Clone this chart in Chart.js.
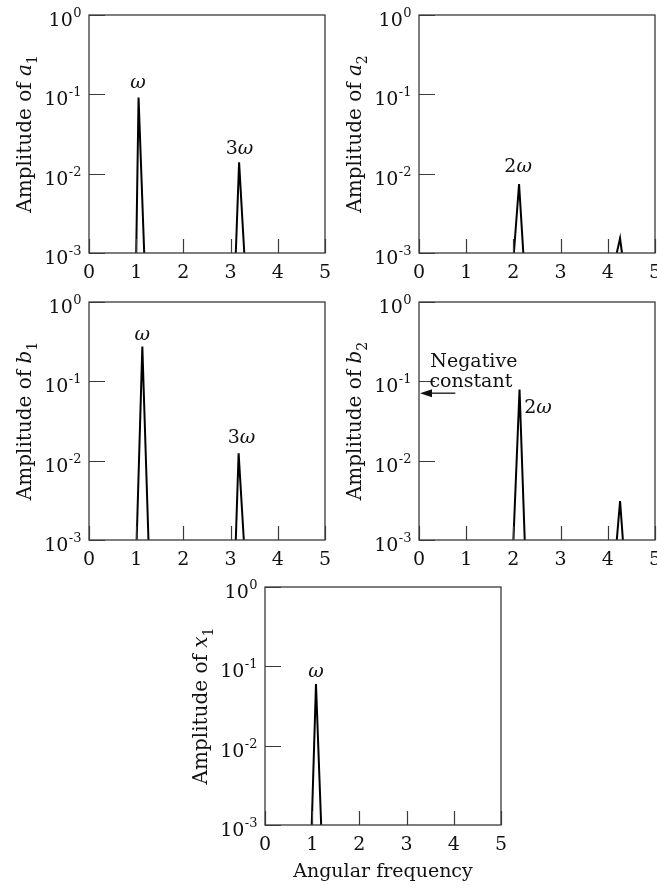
<!DOCTYPE html>
<html lang="en">
<head>
<meta charset="UTF-8">
<title>Amplitude spectra</title>
<script src="https://cdn.jsdelivr.net/npm/chart.js"></script>
<style>
  body { margin: 0; background: #fff; }
  #page { position: relative; width: 657px; height: 890px; overflow: hidden; }
  .panel { position: absolute; }
</style>
</head>
<body>
<div id="page">
  <div class="panel" style="left:0;top:0;width:330px;height:285px"><canvas id="a1"></canvas></div>
  <div class="panel" style="left:330px;top:0;width:327px;height:285px"><canvas id="a2"></canvas></div>
  <div class="panel" style="left:0;top:287px;width:330px;height:285px"><canvas id="b1"></canvas></div>
  <div class="panel" style="left:330px;top:287px;width:327px;height:285px"><canvas id="b2"></canvas></div>
  <div class="panel" style="left:176px;top:572px;width:330px;height:318px"><canvas id="x1"></canvas></div>
</div>

<script>
// axes
const freqTicks = [0, 1, 2, 3, 4, 5];
const ampTicks = [0.001, 0.01, 0.1, 1];
const ampExponents = ['-3', '-2', '-1', '0'];   // tick labels 10^-3 ... 10^0

// each peak is three points: foot, top, foot
const a1Freq = [1.00, 1.05, 1.17, 3.11, 3.18, 3.29];
const a1Amp  = [0.001, 0.091, 0.001, 0.001, 0.0139, 0.001];
const a2Freq = [2.01, 2.12, 2.21, 4.19, 4.26, 4.30];
const a2Amp  = [0.001, 0.0074, 0.001, 0.001, 0.00153, 0.001];
const b1Freq = [1.01, 1.13, 1.26, 3.11, 3.17, 3.28];
const b1Amp  = [0.001, 0.275, 0.001, 0.001, 0.0124, 0.001];
const b2Freq = [2.00, 2.13, 2.24, 4.19, 4.26, 4.32];
const b2Amp  = [0.001, 0.079, 0.001, 0.001, 0.0031, 0.001];
const x1Freq = [0.99, 1.08, 1.19];
const x1Amp  = [0.001, 0.060, 0.001];

const SERIF = '"DejaVu Serif", "Liberation Serif", serif';
const INK = '#111';
const LINE = '#3a3a3a';

function fontFor(p, size) {
  return (p.it ? 'italic ' : '') + (p.sub ? Math.round(size * 0.68) : size) + 'px ' + SERIF;
}

// draws text made of pieces (upright / italic / subscript)
function drawParts(ctx, parts, x, y, align, size) {
  let w = 0;
  parts.forEach(p => { ctx.font = fontFor(p, size); w += ctx.measureText(p.t).width; });
  let cx = align === 'center' ? x - w / 2 : x;
  ctx.textAlign = 'left';
  ctx.textBaseline = 'alphabetic';
  parts.forEach(p => {
    ctx.font = fontFor(p, size);
    ctx.fillText(p.t, cx, y + (p.sub ? size * 0.28 : 0));
    cx += ctx.measureText(p.t).width;
  });
}

function makeFrame(spec) {
  return {
    id: 'frame',
    afterDraw(chart) {
      const ctx = chart.ctx;
      const a = chart.chartArea;
      const xs = chart.scales.x, ys = chart.scales.y;
      ctx.save();
      // box
      ctx.strokeStyle = LINE;
      ctx.lineWidth = 1.3;
      ctx.strokeRect(a.left, a.top, a.right - a.left, a.bottom - a.top);
      // inward ticks
      ctx.lineWidth = 1.2;
      ctx.beginPath();
      freqTicks.forEach(v => {
        const px = Math.round(xs.getPixelForValue(v)) + 0.5;
        ctx.moveTo(px, a.bottom);
        ctx.lineTo(px, a.bottom - 14);
      });
      ampTicks.forEach(v => {
        const py = Math.round(ys.getPixelForValue(v)) + 0.5;
        ctx.moveTo(a.left, py);
        ctx.lineTo(a.left + 16, py);
      });
      ctx.stroke();

      ctx.fillStyle = INK;
      ctx.textBaseline = 'alphabetic';
      ctx.textAlign = 'left';
      // y tick labels: 10 with raised exponent
      ampTicks.forEach((v, i) => {
        const py = ys.getPixelForValue(v);
        ctx.font = '19px ' + SERIF;
        const wBase = ctx.measureText('10').width;
        ctx.font = '13px ' + SERIF;
        const wExp = ctx.measureText(ampExponents[i]).width;
        const x0 = a.left - 8 - wBase - wExp;
        ctx.font = '19px ' + SERIF;
        ctx.fillText('10', x0, py + 11);
        ctx.font = '13px ' + SERIF;
        ctx.fillText(ampExponents[i], x0 + wBase + 0.5, py + 2);
      });

      // y title, rotated
      ctx.save();
      ctx.translate(31, (a.top + a.bottom) / 2);
      ctx.rotate(-Math.PI / 2);
      drawParts(ctx, spec.yTitle, 0, 0, 'center', 20);
      ctx.restore();

      // peak labels and notes
      (spec.notes || []).forEach(n => {
        drawParts(ctx, n.parts, xs.getPixelForValue(n.x), ys.getPixelForValue(n.y), n.align || 'center', 19);
      });

      // arrow
      if (spec.arrow) {
        const x0 = xs.getPixelForValue(spec.arrow.from[0]);
        const x1 = xs.getPixelForValue(spec.arrow.to[0]);
        const y0 = ys.getPixelForValue(spec.arrow.from[1]);
        ctx.strokeStyle = INK;
        ctx.lineWidth = 1.3;
        ctx.beginPath();
        ctx.moveTo(x0, y0);
        ctx.lineTo(x1 + 8, y0);
        ctx.stroke();
        ctx.beginPath();
        ctx.moveTo(x1 + 1, y0);
        ctx.lineTo(x1 + 13, y0 - 4);
        ctx.lineTo(x1 + 13, y0 + 4);
        ctx.closePath();
        ctx.fill();
      }
      ctx.restore();
    }
  };
}

function peaks(freq, amp) {
  const sets = [];
  for (let i = 0; i < freq.length; i += 3) {
    sets.push({
      data: [0, 1, 2].map(k => ({ x: freq[i + k], y: amp[i + k] })),
      borderColor: '#000',
      borderWidth: 2,
      pointRadius: 0,
      tension: 0,
      fill: false
    });
  }
  return sets;
}

function panel(id, freq, amp, spec) {
  const xTitle = spec.xTitle || '';
  new Chart(document.getElementById(id), {
    type: 'line',
    data: { datasets: peaks(freq, amp) },
    options: {
      responsive: true,
      maintainAspectRatio: false,
      animation: false,
      events: [],
      layout: { padding: { top: 15, right: spec.padRight, left: 0, bottom: 0 } },
      plugins: { legend: { display: false }, tooltip: { enabled: false } },
      scales: {
        x: {
          type: 'linear', min: 0, max: 5,
          afterBuildTicks: s => { s.ticks = freqTicks.map(v => ({ value: v })); },
          afterFit: s => { s.height = spec.xHeight; s.paddingLeft = 0; s.paddingRight = 0; },
          ticks: { font: { family: SERIF, size: 19 }, color: INK, padding: 9, maxRotation: 0, autoSkip: false },
          grid: { display: false, drawTicks: false },
          border: { display: false },
          title: {
            display: xTitle !== '', text: xTitle, color: INK,
            font: { family: SERIF, size: 19 }, padding: { top: 0, bottom: 7 }
          }
        },
        y: {
          type: 'logarithmic', min: 0.001, max: 1,
          afterBuildTicks: s => { s.ticks = ampTicks.map(v => ({ value: v })); },
          afterFit: s => { s.width = 89; s.paddingTop = 0; s.paddingBottom = 0; },
          ticks: { display: false },
          grid: { display: false, drawTicks: false },
          border: { display: false }
        }
      }
    },
    plugins: [makeFrame(spec)]
  });
}

const omega = [{ t: 'ω', it: true }];

panel('a1', a1Freq, a1Amp, {
  padRight: 5, xHeight: 32,
  yTitle: [{ t: 'Amplitude of ' }, { t: 'a', it: true }, { t: '1', sub: true }],
  notes: [
    { x: 1.04, y: 0.12, parts: omega },
    { x: 3.19, y: 0.0177, parts: [{ t: '3' }, { t: 'ω', it: true }] }
  ]
});

panel('a2', a2Freq, a2Amp, {
  padRight: 2, xHeight: 32,
  yTitle: [{ t: 'Amplitude of ' }, { t: 'a', it: true }, { t: '2', sub: true }],
  notes: [
    { x: 2.10, y: 0.0105, parts: [{ t: '2' }, { t: 'ω', it: true }] }
  ]
});

panel('b1', b1Freq, b1Amp, {
  padRight: 5, xHeight: 32,
  yTitle: [{ t: 'Amplitude of ' }, { t: 'b', it: true }, { t: '1', sub: true }],
  notes: [
    { x: 1.13, y: 0.33, parts: omega },
    { x: 3.23, y: 0.0166, parts: [{ t: '3' }, { t: 'ω', it: true }] }
  ]
});

panel('b2', b2Freq, b2Amp, {
  padRight: 2, xHeight: 32,
  yTitle: [{ t: 'Amplitude of ' }, { t: 'b', it: true }, { t: '2', sub: true }],
  notes: [
    { x: 2.23, y: 0.0404, parts: [{ t: '2' }, { t: 'ω', it: true }], align: 'left' },
    { x: 0.24, y: 0.15, parts: [{ t: 'Negative' }], align: 'left' },
    { x: 0.22, y: 0.0837, parts: [{ t: 'constant' }], align: 'left' }
  ],
  arrow: { from: [0.77, 0.0709], to: [0, 0.0709] }
});

panel('x1', x1Freq, x1Amp, {
  padRight: 5, xHeight: 65, xTitle: 'Angular frequency',
  yTitle: [{ t: 'Amplitude of ' }, { t: 'x', it: true }, { t: '1', sub: true }],
  notes: [
    { x: 1.08, y: 0.074, parts: omega }
  ]
});
</script>
</body>
</html>
